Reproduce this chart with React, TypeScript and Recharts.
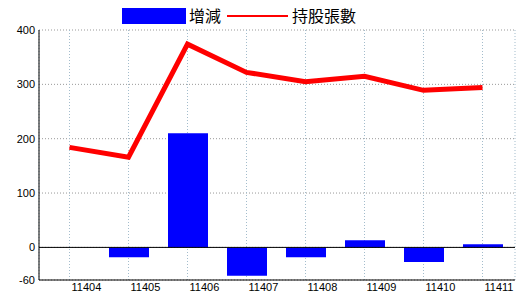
import React from "react";
import {
  ComposedChart,
  Bar,
  Line,
  XAxis,
  YAxis,
  CartesianGrid,
  ReferenceLine,
} from "recharts";

const categories = ["11404", "11405", "11406", "11407", "11408", "11409", "11410", "11411"];
const changeValues = [0, -18, 210, -52, -18, 13, -27, 6];
const holdingValues = [184, 166, 374, 322, 305, 315, 289, 294];
const yTicks = [-60, 0, 100, 200, 300, 400];

const data = categories.map((c, i) => ({
  name: c,
  change: changeValues[i],
  holding: holdingValues[i],
}));

const tickFont = { fontFamily: "'Liberation Sans', Arial, sans-serif", fontSize: 11, fill: "#000" };

const XTick = (props: any) => {
  const { x, y, payload } = props;
  return (
    <text x={x + 2} y={y} dy={9} textAnchor="start" style={tickFont}>
      {payload.value}
    </text>
  );
};

export default function App() {
  return (
    <div style={{ position: "absolute", left: 0, top: 0, width: 520, height: 300, background: "#fff" }}>
      <div
        style={{
          position: "absolute",
          left: 0,
          top: 0,
          width: 520,
          height: 30,
          fontFamily: "'Noto Sans CJK TC', sans-serif",
          fontSize: 16,
          color: "#000",
        }}
      >
        <div style={{ position: "absolute", left: 122, top: 8, width: 64, height: 16, background: "#0000ff" }} />
        <span style={{ position: "absolute", left: 189, top: 4, lineHeight: "22px" }}>增減</span>
        <div style={{ position: "absolute", left: 227, top: 15, width: 61, height: 2, background: "#ff0000" }} />
        <span style={{ position: "absolute", left: 292, top: 4, lineHeight: "22px" }}>持股張數</span>
      </div>
      <ComposedChart
        width={520}
        height={300}
        data={data}
        margin={{ top: 30, right: 5, bottom: 0, left: 0 }}
      >
        <CartesianGrid horizontal={true} vertical={false} stroke="#999" strokeDasharray="1 2" />
        <CartesianGrid horizontal={false} vertical={true} stroke="#a3bccc" strokeDasharray="1 2" />
        <XAxis
          dataKey="name"
          xAxisId={0}
          height={20}
          padding={{ left: 1, right: 3 }}
          tickLine={false}
          tickSize={0}
          axisLine={{ stroke: "#000", strokeWidth: 1 }}
          tick={<XTick />}
          interval={0}
        />
        <XAxis xAxisId="top" orientation="top" height={0} tick={false} tickLine={false} axisLine={{ stroke: "#000" }} />
        <YAxis
          yAxisId={0}
          width={39}
          domain={[-60, 400]}
          ticks={yTicks}
          interval={0}
          tickLine={false}
          tickSize={0}
          tickMargin={4}
          axisLine={{ stroke: "#000", strokeWidth: 1 }}
          tick={tickFont}
        />
        <YAxis yAxisId="right" orientation="right" width={0} tick={false} tickLine={false} axisLine={{ stroke: "#000" }} />
        <Bar dataKey="change" fill="#0000ff" barSize={40} isAnimationActive={false} />
        <ReferenceLine y={0} stroke="#000" strokeWidth={1} />
        <Line
          dataKey="holding"
          type="linear"
          stroke="#ff0000"
          strokeWidth={5}
          dot={false}
          activeDot={false}
          isAnimationActive={false}
        />
      </ComposedChart>
    </div>
  );
}
